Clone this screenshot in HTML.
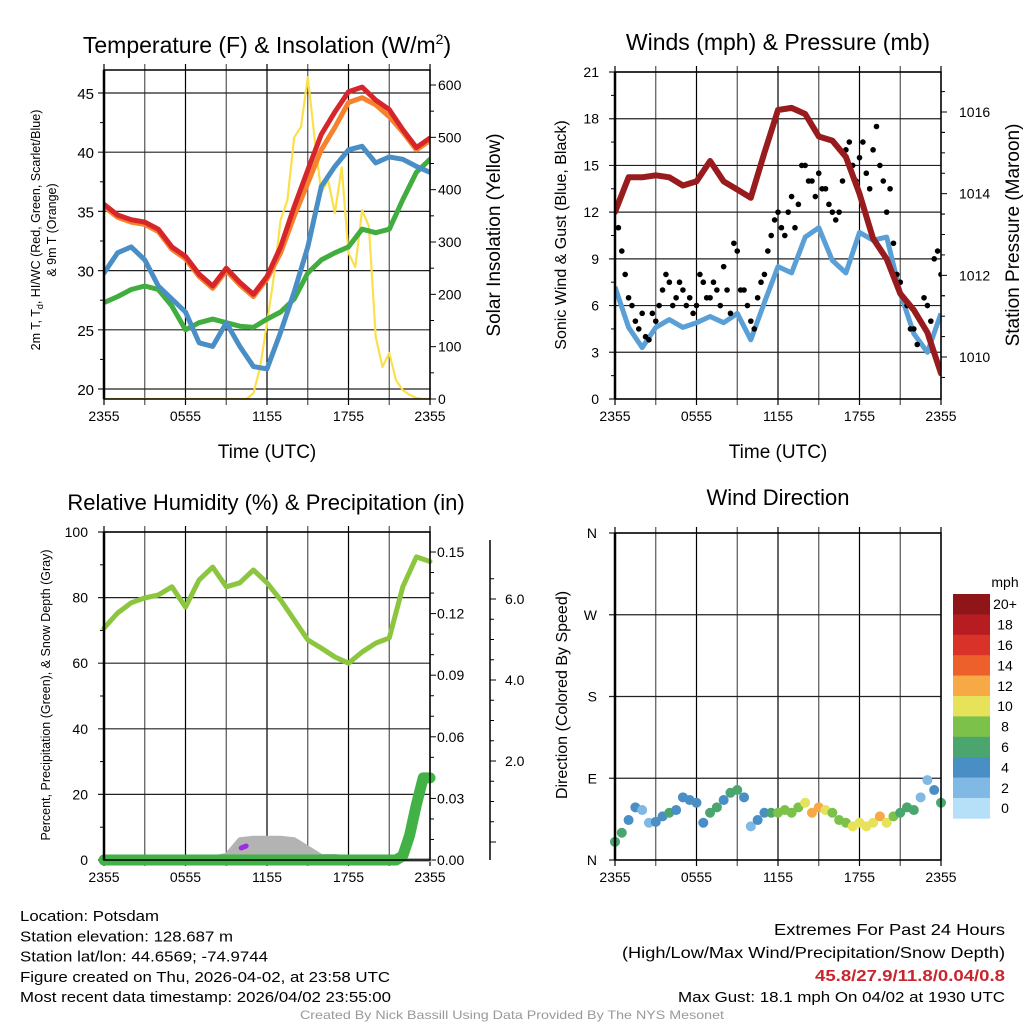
<!DOCTYPE html>
<html><head><meta charset="utf-8"><style>
html,body{margin:0;padding:0;background:#fff;}
svg{display:block;font-family:"Liberation Sans",sans-serif;}
</style></head><body>
<svg id="fig" width="1024" height="1024" viewBox="0 0 1024 1024" xmlns="http://www.w3.org/2000/svg">
<rect width="1024" height="1024" fill="#fff"/>
</svg>
<script>
// ---------------- data ----------------
const hours = [0,1,2,3,4,5,6,7,8,9,10,11,12,13,14,15,16,17,18,19,20,21,22,23,24];
const tempRed = [35.6,34.7,34.3,34.1,33.5,32.0,31.2,29.7,28.7,30.2,29.0,28.0,29.5,32.0,35.4,38.5,41.5,43.4,45.1,45.5,44.4,43.6,41.9,40.4,41.2];
const tempOrange = [35.4,34.5,34.1,33.9,33.3,31.8,31.0,29.5,28.5,30.0,28.8,27.8,29.3,31.5,34.6,37.4,40.2,42.1,44.2,44.6,44.0,43.0,41.7,40.2,41.0];
const dewBlue = [29.8,31.5,32.0,30.9,28.7,27.6,26.5,23.9,23.6,25.6,23.6,21.9,21.7,24.8,28.2,32.0,37.1,38.8,40.2,40.5,39.1,39.6,39.4,38.8,38.3];
const hiwcGreen = [27.3,27.8,28.4,28.7,28.4,27.0,25.0,25.6,25.9,25.6,25.3,25.2,25.9,26.5,27.6,29.8,30.9,31.5,32.0,33.5,33.2,33.5,36.0,38.3,39.4];
const halfHours = [0,0.5,1,1.5,2,2.5,3,3.5,4,4.5,5,5.5,6,6.5,7,7.5,8,8.5,9,9.5,10,10.5,11,11.5,12,12.5,13,13.5,14,14.5,15,15.5,16,16.5,17,17.5,18,18.5,19,19.5,20,20.5,21,21.5,22,22.5,23,23.5,24];
const solar = [0,0,0,0,0,0,0,0,0,0,0,0,0,0,0,0,0,0,0,0,0,0,11,61,145,233,342,380,500,520,615,500,394,418,355,443,279,252,361,330,119,61,88,36,17,8,2,0,0];
const pressure = [1013.55,1014.4,1014.4,1014.45,1014.4,1014.2,1014.3,1014.8,1014.3,1014.1,1013.9,1015.0,1016.05,1016.1,1015.95,1015.4,1015.3,1014.9,1014.0,1012.9,1012.4,1011.55,1011.15,1010.6,1009.6];
const windSpeed = [7.2,4.6,3.3,4.6,5.1,4.6,4.9,5.3,4.9,5.5,3.8,6.2,8.5,8.1,10.4,11.0,8.9,8.1,10.7,10.2,10.4,6.8,4.2,3.0,5.5];
const gust = [12.2,11,9.5,8,6.5,6,5,4.5,5.5,4,3.8,5.5,5,6,7,8,7.5,6,6.5,7.5,7,6,6.5,5.5,6,8,7.5,6.5,6.5,7.5,7,6,8.5,7,5.5,10,9.5,7,7,6,5,4.5,6.5,7.5,8,9.5,10.5,11.5,12,11,10.5,12,13,11,12.5,15,15,14,14,13,14.5,13.5,13.5,12.5,12,11.5,12,14,16,16.5,15,14,15.5,16.5,14.5,13.5,16,17.5,15,14,12,13.5,10,8,7.5,6.5,6,4.5,4.5,3.5,5,6.5,6,5,9,9.5,8];
const rh = [70.7,75.3,78.4,79.9,80.8,83.3,77.1,85.4,89.3,83.3,84.5,88.4,84.5,79.3,73.2,67.1,64.6,61.9,60.0,63.4,66.1,67.7,83.3,92.4,91.0];
const precip = [0,0,0,0,0,0,0,0,0,0,0,0,0,0,0,0,0,0,0,0,0,0,0,0,0,0,0,0,0,0,0,0,0,0,0,0,0,0,0,0,0,0,0,0,0.002,0.012,0.027,0.04,0.04];
const snowDepth = [0,0,0,0,0,0,0,0,0.05,0.1,0.42,0.45,0.45,0.45,0.42,0.25,0.08,0.08,0.05,0.05,0,0,0,0,0];
const windDir = [20,30,44,58,55,41,42,48,52,55,69,66,63,41,52,58,66,74,77,69,37,44,52,52,52,55,52,58,63,52,58,55,52,44,41,37,41,37,41,48,41,48,52,58,55,69,88,77,63];
const dirSpeed = [6,7,4,4,2,2,4,4,6,4,4,4,4,4,6,6,4,6,6,4,2,4,4,6,8,8,8,8,10,12,12,10,8,8,8,10,10,10,10,12,10,8,6,6,6,2,2,4,6];
const timeLabels = ["2355","0555","1155","1755","2355"];
const tempTicks = [20,25,30,35,40,45];
const solarTicks = [0,100,200,300,400,500,600];
const windTicks = [0,3,6,9,12,15,18,21];
const presTicks = [1010,1012,1014,1016];
const rhTicks = [0,20,40,60,80,100];
const precipTicks = ["0.00","0.03","0.06","0.09","0.12","0.15"];
const snowTicks = ["2.0","4.0","6.0"];
const dirLabels = ["N","E","S","W","N"];
const cbColors = ["#8f1518","#b71c23","#d93228","#ee602b","#f6a944","#e6e25a","#7cc14a","#4aa56e","#4a8ec6","#7fb9e4","#b5e0f7"];
const cbLabels = ["20+","18","16","14","12","10","8","6","4","2","0"];

// ---------------- helpers ----------------
const NS="http://www.w3.org/2000/svg";
const svg=document.getElementById('fig');
function mk(tag,attrs,parent){const e=document.createElementNS(NS,tag);for(const k in attrs)e.setAttribute(k,attrs[k]);(parent||svg).appendChild(e);return e;}
function txt(s,x,y,size,anchor,parent,extra){const e=mk('text',Object.assign({x:x,y:y,'font-size':size,'text-anchor':anchor||'middle',fill:'#000'},extra||{}),parent);e.textContent=s;return e;}
function lin(d0,d1,r0,r1){return v=>r0+(v-d0)/(d1-d0)*(r1-r0);}
function pathFrom(xs,ys,fx,fy){let d='';for(let i=0;i<xs.length;i++)d+=(i?'L':'M')+fx(xs[i]).toFixed(1)+','+fy(ys[i]).toFixed(1);return d;}
function tick(g,x1,y,x2,T,B){if(y<T-0.5||y>B+0.5)return;mk('line',{x1:x1,y1:y,x2:x2,y2:y,stroke:'#000'},g);}

function frame(g,L,T,R,B){
  for(let h=0;h<=24;h+=3){const x=L+(R-L)*h/24;
    const gl=mk('line',{x1:x,y1:T-6,x2:x,y2:B+6,stroke:(h%6?'#555':'#000'),'stroke-width':1.2},g);
    
    
  }
  timeLabels.forEach((s,i)=>{const t=txt(s,L+(R-L)*i/4,B+22,14,'middle',g);
    
    });
}

// ================= PANEL 1 =================
(function(){
 const L=104,T=70,R=430,B=399;
 const g=mk('g',{});
 
 
 const fx=lin(0,24,L,R), fy=lin(20,45,389,93), fs=lin(0,600,399,85);
 frame(g,L,T,R,B);
 tempTicks.forEach(v=>{const y=fy(v);
   const l=mk('line',{x1:L-6,y1:y,x2:R,y2:y,stroke:'#222','stroke-width':1.2},g);
   
   
   const t=txt(String(v),L-10,y+6,15,'end',g);
   
   
   tick(g,L-4,fy(v+2.5),L,T,B);
 });
 solarTicks.forEach(v=>{const y=fs(v);
   mk('line',{x1:R,y1:y,x2:R+6,y2:y,stroke:'#000'},g);
   const t=txt(String(v),R+8,y+5,14,'start',g);
   
   
   tick(g,R,fs(v+50),R+4,T,B);
 });
 const clip=mk('clipPath',{id:'c1'},g);mk('rect',{x:L,y:T,width:R-L,height:B-T},clip);
 const pg=mk('g',{'clip-path':'url(#c1)'},g);
 const ps=mk('path',{d:pathFrom(halfHours,solar,fx,fs),fill:'none',stroke:'#fbe04c','stroke-width':2.2,'stroke-linejoin':'round'},pg);
 
 
 const pgr=mk('path',{d:pathFrom(hours,hiwcGreen,fx,fy),fill:'none',stroke:'#41ad3f','stroke-width':5,'stroke-linejoin':'round','stroke-linecap':'round'},pg);
 
 
 const pb=mk('path',{d:pathFrom(hours,dewBlue,fx,fy),fill:'none',stroke:'#4a8ec6','stroke-width':5,'stroke-linejoin':'round','stroke-linecap':'round'},pg);
 
 
 const po=mk('path',{d:pathFrom(hours,tempOrange,fx,fy),fill:'none',stroke:'#f6822b','stroke-width':5,'stroke-linejoin':'round','stroke-linecap':'round'},pg);
 
 
 const pr=mk('path',{d:pathFrom(hours,tempRed,fx,fy),fill:'none',stroke:'#d7262b','stroke-width':5,'stroke-linejoin':'round','stroke-linecap':'round'},pg);
 
 
 mk('rect',{x:L,y:T,width:R-L,height:B-T,fill:'none',stroke:'#000','stroke-width':1.5},g);
 mk('line',{x1:L,y1:T,x2:L,y2:B,stroke:'#000','stroke-width':2.5},g);
 const title=mk('text',{x:267,y:53,'font-size':23,'text-anchor':'middle'},g);
 title.innerHTML='Temperature (F) &amp; Insolation (W/m<tspan dy="-9" font-size="14">2</tspan><tspan dy="9">)</tspan>';
 
 
 const xt=txt('Time (UTC)',267,458,19,'middle',g);
 
 
 const yt=mk('text',{transform:'translate(40,230) rotate(-90)','font-size':12.5,'text-anchor':'middle'},g);
 yt.innerHTML='2m T, T<tspan dy="3" font-size="9">d</tspan><tspan dy="-3">, HI/WC (Red, Green, Scarlet/Blue)</tspan>';
 
 
 const yt2=txt('& 9m T (Orange)',0,0,12.5,'middle',g,{transform:'translate(56,230) rotate(-90)'});
 
 
 const rt=txt('Solar Insolation (Yellow)',0,0,19,'middle',g,{transform:'translate(500,235) rotate(-90)'});
 
 
})();

// ================= PANEL 2 =================
(function(){
 const L=615,T=72,R=941,B=399;
 const g=mk('g',{});
 
 
 const fx=lin(0,24,L,R), fy=lin(0,21,B,T), fp=lin(1010,1016,357,112);
 frame(g,L,T,R,B);
 windTicks.forEach(v=>{const y=fy(v);
   const l=mk('line',{x1:L-6,y1:y,x2:R,y2:y,stroke:'#222','stroke-width':1.2},g);
   
   
   const t=txt(String(v),L-16,y+5,14,'end',g);
   
   
   tick(g,L-4,fy(v+1.5),L,T,B);
 });
 presTicks.forEach(v=>{const y=fp(v);
   mk('line',{x1:R,y1:y,x2:R+6,y2:y,stroke:'#000'},g);
   const t=txt(String(v),R+18,y+5,14,'start',g);
   
   
   tick(g,R,fp(v+0.5),R+4,T,B);tick(g,R,fp(v+1),R+4,T,B);tick(g,R,fp(v+1.5),R+4,T,B);
   tick(g,R,fp(v-0.5),R+4,T,B);
 });
 const clip=mk('clipPath',{id:'c2'},g);mk('rect',{x:L,y:T,width:R-L,height:B-T},clip);
 const pg=mk('g',{'clip-path':'url(#c2)'},g);
 const pw=mk('path',{d:pathFrom(hours,windSpeed,fx,fy),fill:'none',stroke:'#5a9fd6','stroke-width':5,'stroke-linejoin':'round'},pg);
 
 
 gust.forEach((v,i)=>{const c=mk('circle',{cx:fx(i*0.25),cy:fy(v),r:2.8,fill:'#000'},pg);
   
   });
 const pp=mk('path',{d:pathFrom(hours,pressure,fx,fp),fill:'none',stroke:'#981b1e','stroke-width':6,'stroke-linejoin':'round','stroke-linecap':'round'},pg);
 
 
 mk('rect',{x:L,y:T,width:R-L,height:B-T,fill:'none',stroke:'#000','stroke-width':1.5},g);
 mk('line',{x1:L,y1:T,x2:L,y2:B,stroke:'#000','stroke-width':2.5},g);
 const title=txt('Winds (mph) & Pressure (mb)',778,50,23,'middle',g);
 
 
 const xt=txt('Time (UTC)',778,458,19,'middle',g);
 
 
 const yt=txt('Sonic Wind & Gust (Blue, Black)',0,0,16,'middle',g,{transform:'translate(566,235) rotate(-90)'});
 
 
 const rt=txt('Station Pressure (Maroon)',0,0,19,'middle',g,{transform:'translate(1019,235) rotate(-90)'});
 
 
})();

// ================= PANEL 3 =================
(function(){
 const L=104,T=532,R=430,B=860;
 const g=mk('g',{});
 
 
 const fx=lin(0,24,L,R), fy=lin(0,100,B,T), fpr=lin(0,0.15,B,552), fsn=lin(0,2,B,761);
 frame(g,L,T,R,B);
 rhTicks.forEach(v=>{const y=fy(v);
   const l=mk('line',{x1:L-6,y1:y,x2:R,y2:y,stroke:'#222','stroke-width':1.2},g);
   
   
   const t=txt(String(v),L-16,y+5,14,'end',g);
   
   
   tick(g,L-4,fy(v+10),L,T,B);
 });
 precipTicks.forEach(s=>{const y=fpr(parseFloat(s));
   mk('line',{x1:R,y1:y,x2:R+6,y2:y,stroke:'#000'},g);
   tick(g,R,fpr(parseFloat(s)+0.01),R+4,T,B);
   tick(g,R,fpr(parseFloat(s)+0.02),R+4,T,B);
   const t=txt(s,R+7,y+5,14,'start',g);
   
   
 });
 const ax=mk('line',{x1:490,y1:540,x2:490,y2:860,stroke:'#000','stroke-width':1.5},g);
 
 
 const fsa=lin(2,6,761,599);
 for(let v=0;v<=6.5;v+=0.5){const y=fsa(v);if(y<540||y>860)continue;
   mk('line',{x1:490,y1:y,x2:(v%2===0?496:494),y2:y,stroke:'#000'},g);}
 snowTicks.forEach(s=>{const t=txt(s,505,fsa(parseFloat(s))+5,14,'start',g);
   
   });
 const clip=mk('clipPath',{id:'c3'},g);mk('rect',{x:L-8,y:T,width:R-L+16,height:B-T+10},clip);
 const pg=mk('g',{'clip-path':'url(#c3)'},g);
 let d='M'+fx(0)+','+B;hours.forEach((h,i)=>{d+='L'+fx(h).toFixed(1)+','+fsn(snowDepth[i]).toFixed(1);});d+='L'+fx(24)+','+B+'Z';
 const sn=mk('path',{d:d,fill:'#b3b3b3',stroke:'#b3b3b3','stroke-width':4,'stroke-linejoin':'round'},pg);
 
 
 const pu=mk('path',{d:'M'+fx(10.1)+','+(B-12)+'l5,-2',stroke:'#9b30e0','stroke-width':5,'stroke-linecap':'round'},pg);
 
 
 const rl=mk('path',{d:pathFrom(hours,rh,fx,fy),fill:'none',stroke:'#8cc63f','stroke-width':5,'stroke-linejoin':'round','stroke-linecap':'round'},pg);
 
 
 const pl=mk('path',{d:pathFrom(halfHours,precip,fx,fpr),fill:'none',stroke:'#43b246','stroke-width':11,'stroke-linejoin':'round','stroke-linecap':'round'},pg);
 
 
 mk('rect',{x:L,y:T,width:R-L,height:B-T,fill:'none',stroke:'#000','stroke-width':1.5},g);
 mk('line',{x1:L,y1:T,x2:L,y2:B,stroke:'#000','stroke-width':2.5},g);
 const title=txt('Relative Humidity (%) & Precipitation (in)',266,510,22,'middle',g);
 
 
 const yt=txt('Percent, Precipitation (Green), & Snow Depth (Gray)',0,0,12.5,'middle',g,{transform:'translate(50,695) rotate(-90)'});
 
 
})();

// ================= PANEL 4 =================
(function(){
 const L=615,T=533,R=941,B=860;
 const g=mk('g',{});
 
 
 const fx=lin(0,24,L,R), fy=lin(0,360,B,T);
 frame(g,L,T,R,B);
 dirLabels.forEach((s,i)=>{const y=fy(i*90);
   const l=mk('line',{x1:L-6,y1:y,x2:R,y2:y,stroke:'#222','stroke-width':1.2},g);
   
   
   const t=txt(s,L-18,y+5,14,'end',g);
   
   
 });
 windDir.forEach((v,i)=>{const idx=Math.max(0,10-Math.min(10,Math.floor(dirSpeed[i]/2)));
   const c=mk('circle',{cx:fx(halfHours[i]),cy:fy(v),r:5,fill:cbColors[idx]},g);
   
   });
 mk('rect',{x:L,y:T,width:R-L,height:B-T,fill:'none',stroke:'#000','stroke-width':1.5},g);
 mk('line',{x1:L,y1:T,x2:L,y2:B,stroke:'#000','stroke-width':2.5},g);
 const title=txt('Wind Direction',778,505,22,'middle',g);
 
 
 const yt=txt('Direction (Colored By Speed)',0,0,16,'middle',g,{transform:'translate(567,695) rotate(-90)'});
 
 
 const cb=mk('g',{},g);
 
 
 const cy0=594,ch=20.4;
 cbColors.forEach((c,i)=>{const r=mk('rect',{x:953,y:cy0+i*ch,width:37,height:ch+0.3,fill:c},cb);
   
   
   const t=txt(cbLabels[i],1005,cy0+i*ch+ch/2+5,14,'middle',cb);
   
   });
 const u=txt('mph',1005,587,14,'middle',cb);
 
 
})();

// ================= FOOTER =================
(function(){
 const g=mk('g',{});
 
 
 const left=[["Location: Potsdam",139],["Station elevation: 128.687 m",213],["Station lat/lon: 44.6569; -74.9744",248],["Figure created on Thu, 2026-04-02, at 23:58 UTC",370],["Most recent data timestamp: 2026/04/02 23:55:00",371]];
 left.forEach((a,i)=>{const t=txt(a[0],20,921+i*20.3,15,'start',g,{textLength:a[1],lengthAdjust:'spacingAndGlyphs'});
   
   });
 const r1=txt('Extremes For Past 24 Hours',1005,935,16,'end',g,{textLength:231,lengthAdjust:'spacingAndGlyphs'});
 
 
 const r2=txt('(High/Low/Max Wind/Precipitation/Snow Depth)',1005,958,16,'end',g,{textLength:383,lengthAdjust:'spacingAndGlyphs'});
 
 
 const r3=txt('45.8/27.9/11.8/0.04/0.8',1005,981,16,'end',g,{fill:'#c8252c','font-weight':'bold',textLength:190,lengthAdjust:'spacingAndGlyphs'});
 
 
 const r4=txt('Max Gust: 18.1 mph On 04/02 at 1930 UTC',1005,1002,15,'end',g,{textLength:327,lengthAdjust:'spacingAndGlyphs'});
 
 
 const c=txt('Created By Nick Bassill Using Data Provided By The NYS Mesonet',512,1019,12,'middle',g,{fill:'#999',textLength:424,lengthAdjust:'spacingAndGlyphs'});
 
 
})();
</script>
</body></html>
